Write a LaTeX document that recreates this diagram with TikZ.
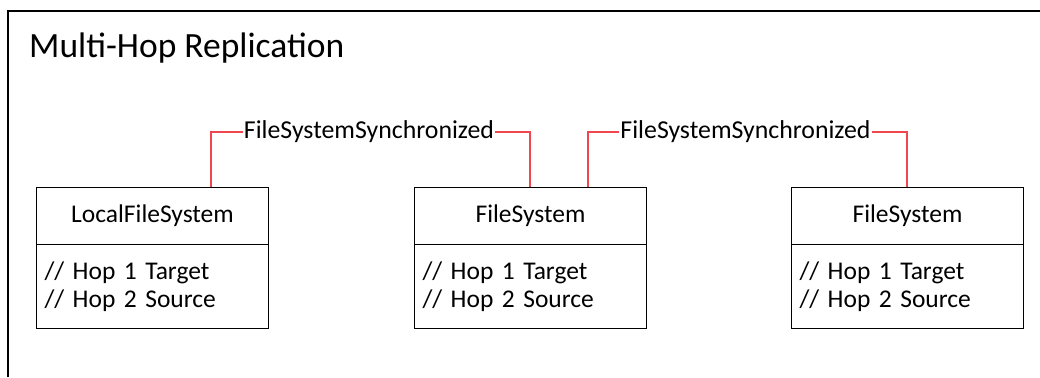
\documentclass[tikz,border=0pt]{standalone}
\usepackage{fontspec}
\setmainfont{Carlito}
\definecolor{conn}{RGB}{240,70,80}
\begin{document}
\begin{tikzpicture}[x=1pt,y=-1pt,
  hdr/.style={draw,line width=1pt,minimum width=232pt,minimum height=57pt,inner sep=0pt,anchor=north west,font=\fontsize{25.5}{30}\selectfont},
  body/.style={draw,line width=1pt,minimum width=232pt,minimum height=84pt,inner sep=0pt,anchor=north west,text width=216pt,align=left,font=\fontsize{25.5}{28}\selectfont},
  lbl/.style={inner sep=1pt,font=\fontsize{25.8}{30}\selectfont},
  link/.style={draw=conn,line width=1.2pt}]
\useasboundingbox (0,0) rectangle (1040,377);
\draw[line width=2pt] (8,377) -- (8,11) -- (1040,11);
\node[anchor=west,inner sep=0pt,font=\fontsize{35.5}{40}\selectfont] (title) at (29,48) {Multi-Hop Replication};
% boxes
\node[hdr] (h1) at (36,187) {LocalFileSystem};
\node[body] (p1) at (36,244) {// Hop 1 Target\\// Hop 2 Source};
\node[hdr] (h2) at (414,187) {FileSystem};
\node[body] (p2) at (414,244) {// Hop 1 Target\\// Hop 2 Source};
\node[hdr] (h3) at (791,187) {FileSystem};
\node[body] (p3) at (791,244) {// Hop 1 Target\\// Hop 2 Source};
% labels
\node[lbl] (l1) at (369,132) {FileSystemSynchronized};
\node[lbl] (l2) at (745.5,132) {FileSystemSynchronized};
% connectors
\coordinate (c1) at ([xshift=175pt]h1.north west);
\coordinate (c2) at ([xshift=116pt]h2.north west);
\coordinate (c3) at ([xshift=174pt]h2.north west);
\coordinate (c4) at ([xshift=116pt]h3.north west);
\draw[link] (l1.west) -| (c1);
\draw[link] (l1.east) -| (c2);
\draw[link] (l2.west) -| (c3);
\draw[link] (l2.east) -| (c4);
\end{tikzpicture}
\end{document}
